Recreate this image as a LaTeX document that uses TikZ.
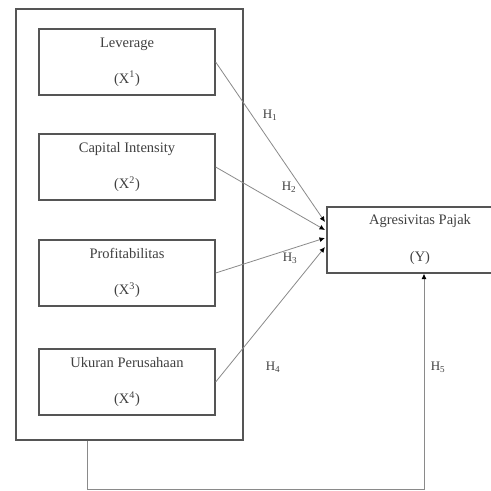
\documentclass[tikz,border=0pt]{standalone}
\usepackage{fontspec}
\setmainfont{Liberation Serif}
\usetikzlibrary{arrows.meta}
\definecolor{boxc}{HTML}{555555}
\definecolor{linec}{HTML}{8A8A8A}
\definecolor{txtc}{HTML}{404040}
\tikzset{
  varbox/.style={draw=boxc, line width=1.3pt, minimum width=176pt, minimum height=66pt, inner sep=0pt,
    align=center, text=txtc, font=\fontsize{14.5}{36}\selectfont},
  outerbox/.style={draw=boxc, line width=1.3pt, minimum width=227pt, minimum height=431pt, inner sep=0pt},
  conn/.style={draw=linec, line width=0.8pt, -{Latex[length=5.5pt,width=5pt,color=black]}},
  hyp/.style={text=txtc, font=\fontsize{13}{13}\selectfont, inner sep=0pt}
}
\begin{document}
\begin{tikzpicture}[x=1pt,y=-1pt]
\path[use as bounding box, fill=white] (0,0) rectangle (491,491);
\clip (0,0) rectangle (491,491);
\node[outerbox] (outer) at (129.5,224.5) {};
\node[varbox] (x1) at (127,62) {Leverage\\(X\textsuperscript{1})};
\node[varbox] (x2) at (127,167) {Capital Intensity\\(X\textsuperscript{2})};
\node[varbox] (x3) at (127,273) {Profitabilitas\\(X\textsuperscript{3})};
\node[varbox] (x4) at (127,382) {Ukuran Perusahaan\\(X\textsuperscript{4})};
\node[varbox, minimum width=186pt, minimum height=66pt, font=\fontsize{14.5}{37}\selectfont] (y) at (420,240) {Agresivitas Pajak\\(Y)};
\coordinate (e1) at (325,222);
\coordinate (e2) at (325,230);
\coordinate (e3) at (325,238);
\coordinate (e4) at (325,247);
\coordinate (c4) at (87,489);
\coordinate (c5) at (424,489);
\draw[conn] (x1.east) -- (e1);
\draw[conn] (x2.east) -- (e2);
\draw[conn] (x3.east) -- (e3);
\draw[conn] (x4.east) -- (e4);
\draw[conn] (outer.south -| c4) -- (c4) -- (c5) -- (y.south -| c5);
\node[hyp] (h1) at (270,115) {H\textsubscript{1}};
\node[hyp] (h2) at (289,187) {H\textsubscript{2}};
\node[hyp] (h3) at (290,258) {H\textsubscript{3}};
\node[hyp] (h4) at (273,367) {H\textsubscript{4}};
\node[hyp] (h5) at (438,367) {H\textsubscript{5}};
\end{tikzpicture}
\end{document}
